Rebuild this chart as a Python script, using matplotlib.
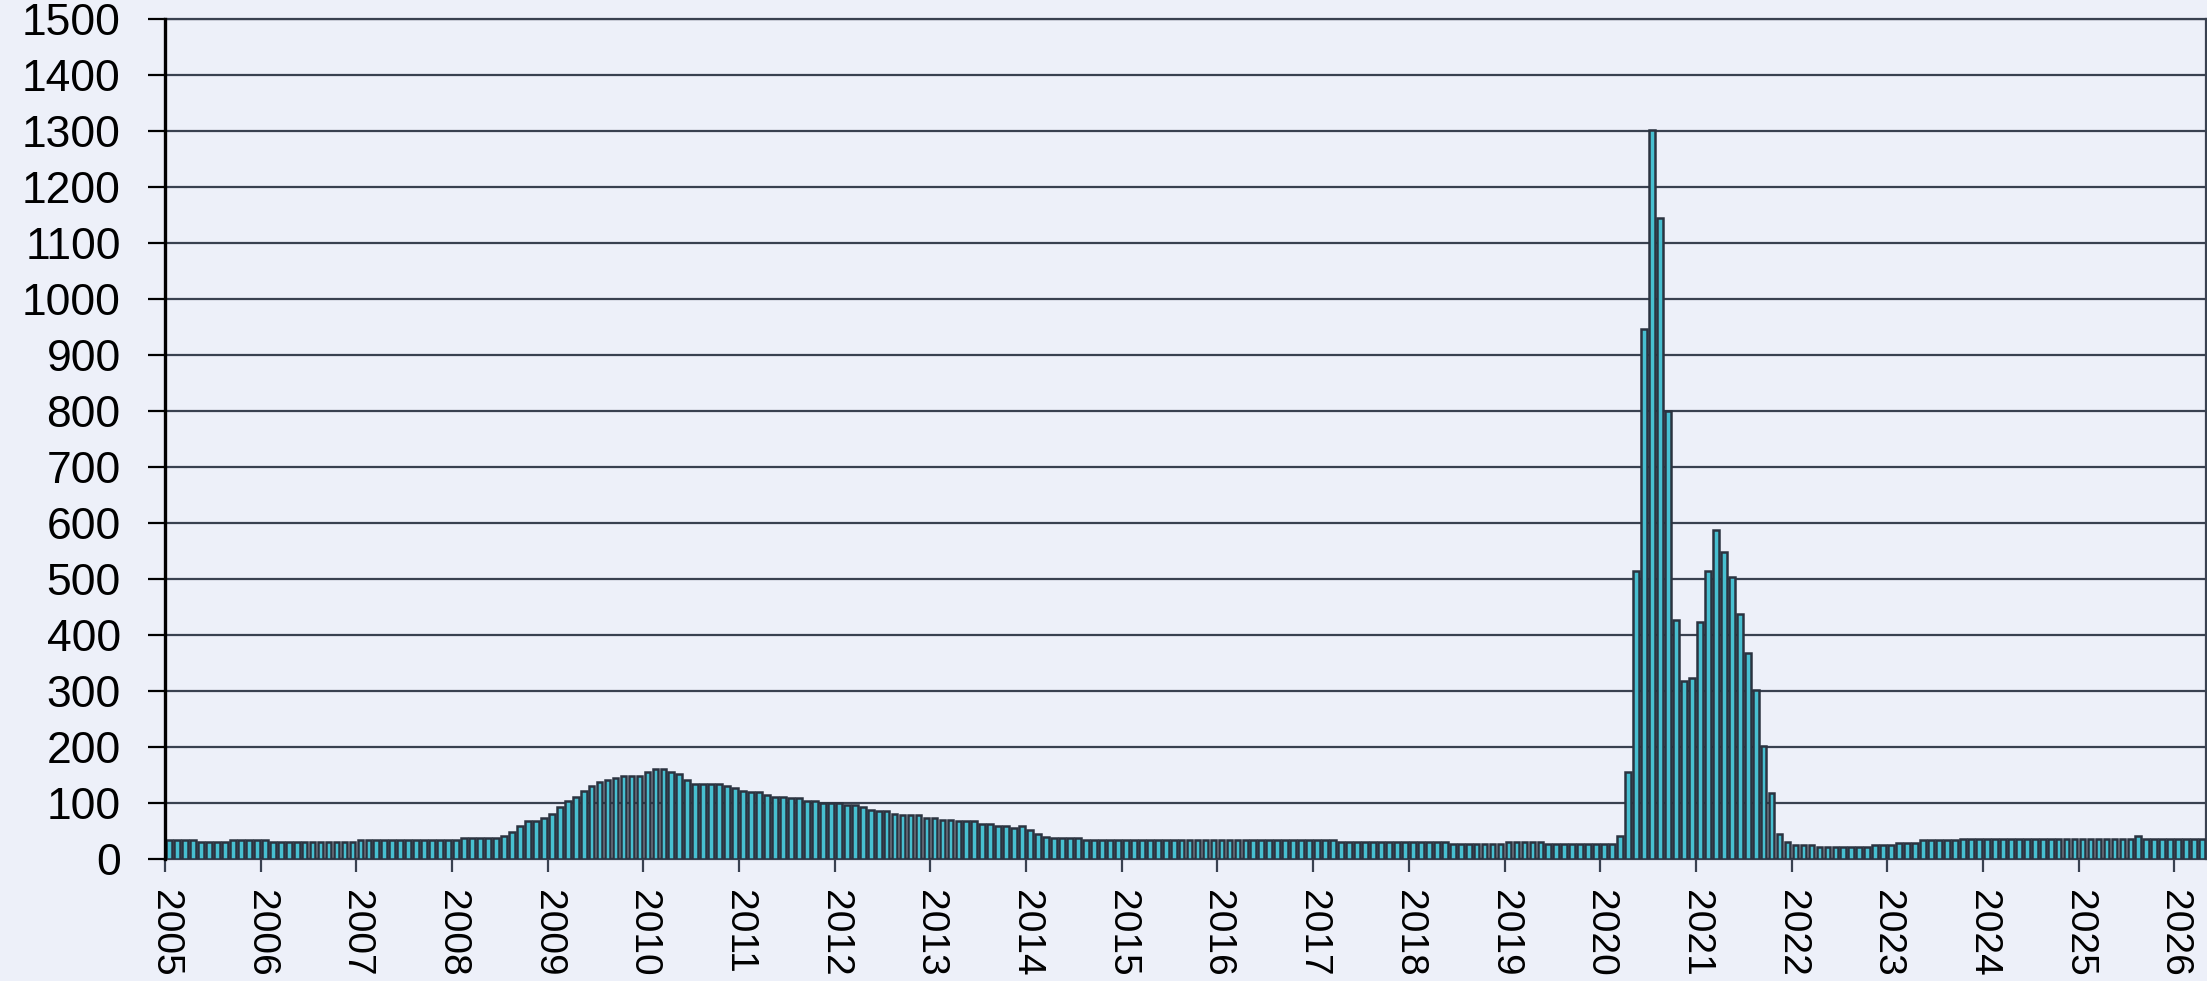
import matplotlib
matplotlib.use('Agg')
import matplotlib.pyplot as plt

# monthly values, Jan..Dec
y2005 = [34, 34, 34, 34, 30, 30, 30, 30, 34, 34, 34, 34]
y2006 = [34, 30, 30, 30, 30, 30, 30, 30, 30, 30, 30, 30]
y2007 = [34, 34, 34, 34, 34, 34, 34, 34, 34, 34, 34, 34]
y2008 = [34, 37, 37, 37, 37, 37, 41, 48, 59, 67, 67, 74]
y2009 = [81, 92, 104, 111, 122, 130, 138, 141, 145, 148, 148, 148]
y2010 = [156, 160, 160, 156, 152, 141, 133, 133, 133, 133, 130, 126]
y2011 = [122, 119, 119, 115, 111, 111, 108, 108, 104, 104, 100, 100]
y2012 = [100, 97, 96, 92, 88, 85, 85, 81, 78, 78, 78, 74]
y2013 = [74, 70, 70, 67, 67, 67, 63, 63, 59, 59, 55, 59]
y2014 = [52, 44, 40, 37, 37, 37, 37, 34, 34, 34, 34, 34]
y2015 = [34, 34, 34, 34, 34, 34, 34, 34, 34, 34, 34, 34]
y2016 = [34, 34, 34, 34, 34, 34, 34, 34, 34, 34, 34, 34]
y2017 = [34, 34, 34, 30, 30, 30, 30, 30, 30, 30, 30, 30]
y2018 = [30, 30, 30, 30, 30, 26, 26, 26, 26, 26, 26, 26]
y2019 = [30, 30, 30, 30, 30, 26, 26, 26, 26, 26, 26, 26]
y2020 = [26, 26, 41, 155, 515, 946, 1302, 1145, 800, 427, 317, 324]
y2021 = [423, 515, 588, 548, 504, 437, 368, 301, 202, 118, 45, 30]
y2022 = [25, 25, 25, 21, 21, 21, 21, 21, 21, 21, 25, 25]
y2023 = [25, 29, 29, 29, 33, 33, 33, 33, 33, 36, 36, 36]
y2024 = [36, 36, 36, 36, 36, 36, 36, 36, 36, 36, 36, 36]
y2025 = [36, 36, 36, 36, 36, 36, 36, 41, 36, 36, 36, 36]
y2026 = [36, 36, 36, 36]

years = list(range(2005, 2027))
values = (y2005 + y2006 + y2007 + y2008 + y2009 + y2010 + y2011 + y2012
          + y2013 + y2014 + y2015 + y2016 + y2017 + y2018 + y2019 + y2020
          + y2021 + y2022 + y2023 + y2024 + y2025 + y2026)

bg = '#edf0f9'
grid_col = '#394150'

plt.rcParams['font.family'] = ['Liberation Sans', 'DejaVu Sans']

fig = plt.figure(figsize=(22.07, 9.81), dpi=100, facecolor=bg)
ax = fig.add_axes([0.0748, 0.1244, 0.9248, 0.8562])
ax.set_facecolor(bg)

x = [i + 0.5 for i in range(len(values))]
ax.bar(x, values, width=0.72, color='#47bfd0', edgecolor='#2b3340',
       linewidth=1.8, zorder=3)

ax.set_xlim(0, len(values))
ax.set_ylim(0, 1500)
ax.set_yticks(range(0, 1501, 100))
ax.set_xticks([12 * i for i in range(len(years))])
ax.set_xticklabels([str(y) for y in years], rotation=270, ha='center', va='top')

ax.yaxis.grid(True, color=grid_col, linewidth=1.6, zorder=1)
ax.set_axisbelow(True)

ax.tick_params(axis='y', length=12, width=1.6, color='black', pad=20,
               labelsize=32, labelcolor='black')
ax.tick_params(axis='x', length=9, width=1.6, color=grid_col, pad=13,
               labelsize=28, labelcolor='black')

ax.spines['left'].set_color('black')
ax.spines['left'].set_linewidth(2.4)
ax.spines['left'].set_zorder(4)
ax.spines['bottom'].set_color(grid_col)
ax.spines['bottom'].set_linewidth(1.6)
ax.spines['right'].set_color(grid_col)
ax.spines['right'].set_linewidth(1.6)
ax.spines['top'].set_color(grid_col)
ax.spines['top'].set_linewidth(1.6)

fig.savefig('out.png', dpi=100, facecolor=bg)
